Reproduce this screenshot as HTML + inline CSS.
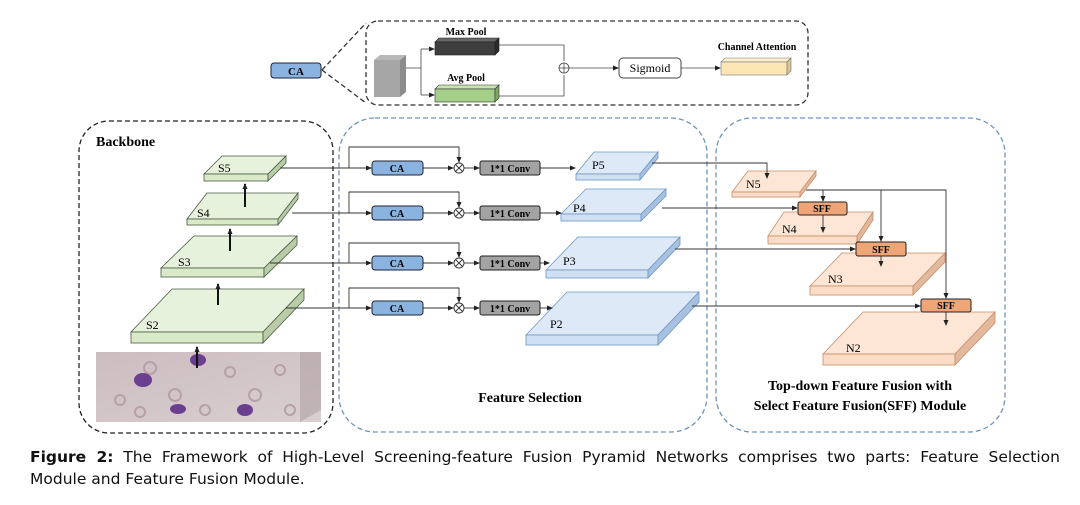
<!DOCTYPE html>
<html><head><meta charset="utf-8"><style>
body{margin:0;background:#fff;width:1080px;height:505px;overflow:hidden}
svg{position:absolute;left:0;top:0}
.cap{position:absolute;left:30px;width:1030px;font-family:"DejaVu Sans","Liberation Sans",sans-serif;font-size:15.5px;line-height:22px;color:#111;white-space:nowrap}
.l1{top:446px;text-align:justify;text-align-last:justify}
.l2{top:468px}
</style></head><body>
<svg width="1080" height="505" viewBox="0 0 1080 505" font-family="Liberation Serif, serif">
<defs>
<marker id="a" markerWidth="6" markerHeight="6" refX="5" refY="3" orient="auto" markerUnits="userSpaceOnUse"><path d="M0,0.5 L6,3 L0,5.5z" fill="#222"/></marker>
<linearGradient id="img" x1="0" y1="0" x2="1" y2="1"><stop offset="0" stop-color="#cbbcc0"/><stop offset="1" stop-color="#d9cfd0"/></linearGradient>
</defs>
<g fill="none" stroke-width="1.3" stroke-dasharray="5,3">
<rect x="79" y="121" width="254" height="312" rx="30" stroke="#222"/>
<rect x="339" y="118" width="368" height="314" rx="36" stroke="#6d93bd"/>
<rect x="716" y="118" width="289" height="314" rx="36" stroke="#6d93bd"/>
<rect x="366" y="21" width="442" height="84" rx="12" stroke="#333"/>
<line x1="322" y1="70" x2="366" y2="23" stroke="#333"/>
<line x1="322" y1="70" x2="366" y2="103" stroke="#333"/>
</g>
<rect x="271" y="63" width="50" height="15" rx="3" fill="#8ab4df" stroke="#223"/>
<text x="296" y="75" font-size="11" font-weight="bold" text-anchor="middle">CA</text>
<polygon points="374,60 380,55 406,55 400,60" fill="#b8b8b8"/>
<polygon points="400,60 406,55 406,92 400,97" fill="#8c8c8c"/>
<rect x="374" y="60" width="26" height="37" fill="#a6a6a6"/>
<polygon points="435,42 439,38 499,38 495,42" fill="#666" stroke="#222" stroke-width=".6"/>
<rect x="435" y="42" width="60" height="13" fill="#3e3e3e" stroke="#222" stroke-width=".6"/>
<polygon points="495,42 499,38 499,51 495,55" fill="#2a2a2a" stroke="#222" stroke-width=".6"/>
<text x="466" y="35" font-size="10" font-weight="bold" text-anchor="middle">Max Pool</text>
<polygon points="435,89 439,85 499,85 495,89" fill="#c8e3b3" stroke="#333" stroke-width=".6"/>
<rect x="435" y="89" width="60" height="13" fill="#a4cf88" stroke="#333" stroke-width=".6"/>
<polygon points="495,89 499,85 499,98 495,102" fill="#7fa868" stroke="#333" stroke-width=".6"/>
<text x="466" y="81" font-size="10" font-weight="bold" text-anchor="middle">Avg Pool</text>
<g stroke="#444" stroke-width=".8" fill="none">
<path d="M406,68 H421 M421,49 V95"/>
<line x1="421" y1="49" x2="434" y2="49" marker-end="url(#a)"/>
<line x1="421" y1="95" x2="434" y2="95" marker-end="url(#a)"/>
<path d="M499,45 H564 V61"/>
<path d="M499,96 H564 V75"/>
<circle cx="564" cy="68" r="5"/>
<path d="M559,68 H569 M564,63 V73"/>
<line x1="569" y1="68" x2="618" y2="68" marker-end="url(#a)"/>
<line x1="681" y1="68" x2="720" y2="68" marker-end="url(#a)"/>
</g>
<rect x="619" y="58" width="62" height="20" rx="4" fill="#fff" stroke="#444"/>
<text x="650" y="72" font-size="12" text-anchor="middle">Sigmoid</text>
<polygon points="721,62 725,58 791,58 787,62" fill="#fbeec8" stroke="#777" stroke-width=".6"/>
<rect x="721" y="62" width="66" height="13" fill="#fbe6b4" stroke="#777" stroke-width=".6"/>
<polygon points="787,62 791,58 791,71 787,75" fill="#d8c490" stroke="#777" stroke-width=".6"/>
<text x="757" y="50" font-size="10" font-weight="bold" text-anchor="middle">Channel Attention</text>
<text x="96" y="146" font-size="14" font-weight="bold">Backbone</text>
<rect x="96" y="352" width="225" height="70" fill="url(#img)"/>
<polygon points="300,352 321,352 321,410 300,422" fill="#b0a2a5" opacity=".6"/>
<g fill="none" stroke="#b7a0a8" stroke-width="2">
<circle cx="150" cy="368" r="6"/><circle cx="175" cy="395" r="6"/><circle cx="230" cy="372" r="5"/><circle cx="255" cy="395" r="6"/><circle cx="280" cy="370" r="5"/><circle cx="120" cy="400" r="5"/><circle cx="205" cy="410" r="5"/><circle cx="290" cy="410" r="5"/><circle cx="140" cy="412" r="5"/>
</g>
<g fill="#6b3f8f"><ellipse cx="198" cy="360" rx="8" ry="6"/><ellipse cx="143" cy="380" rx="9" ry="7"/><ellipse cx="178" cy="409" rx="8" ry="5"/><ellipse cx="245" cy="410" rx="8" ry="6"/></g>
<g stroke="#4a5a40" stroke-width=".8">
<polygon points="131,332 172,289 304,289 263,332" fill="#e7f2dd"/><rect x="131" y="332" width="132" height="11" fill="#d9eac9"/><polygon points="263,332 304,289 304,300 263,343" fill="#b8cca8"/>
<polygon points="161,268 194,236 297,236 264,268" fill="#e7f2dd"/><rect x="161" y="268" width="103" height="9" fill="#d9eac9"/><polygon points="264,268 297,236 297,245 264,277" fill="#b8cca8"/>
<polygon points="187,219 207,193 298,193 278,219" fill="#e7f2dd"/><rect x="187" y="219" width="91" height="6" fill="#d9eac9"/><polygon points="278,219 298,193 298,199 278,225" fill="#b8cca8"/>
<polygon points="204,174 222,156 286,156 268,174" fill="#e7f2dd"/><rect x="204" y="174" width="64" height="7" fill="#d9eac9"/><polygon points="268,174 286,156 286,163 268,181" fill="#b8cca8"/>
</g>
<g font-size="12"><text x="146" y="329">S2</text><text x="178" y="266">S3</text><text x="197" y="217">S4</text><text x="218" y="172">S5</text></g>
<g stroke="#111" stroke-width="2"><line x1="197" y1="368" x2="197" y2="347" marker-end="url(#a)"/><line x1="218" y1="305" x2="218" y2="284" marker-end="url(#a)"/><line x1="230" y1="251" x2="230" y2="229" marker-end="url(#a)"/><line x1="245" y1="207" x2="245" y2="184" marker-end="url(#a)"/></g>
<g stroke="#6e96c4" stroke-width=".8">
<polygon points="526,335 567,292 699,292 658,335" fill="#dde9f7"/><rect x="526" y="335" width="132" height="10" fill="#d0e0f3"/><polygon points="658,335 699,292 699,302 658,345" fill="#a9c1e0"/>
<polygon points="546,270 578,237 680,237 648,270" fill="#dde9f7"/><rect x="546" y="270" width="102" height="8" fill="#d0e0f3"/><polygon points="648,270 680,237 680,245 648,278" fill="#a9c1e0"/>
<polygon points="561,214 586,189 666,189 641,214" fill="#dde9f7"/><rect x="561" y="214" width="80" height="7" fill="#d0e0f3"/><polygon points="641,214 666,189 666,196 641,221" fill="#a9c1e0"/>
<polygon points="576,174 594,152 658,152 640,174" fill="#dde9f7"/><rect x="576" y="174" width="64" height="6" fill="#d0e0f3"/><polygon points="640,174 658,152 658,158 640,180" fill="#a9c1e0"/>
</g>
<g font-size="12"><text x="550" y="328">P2</text><text x="563" y="265">P3</text><text x="573" y="212">P4</text><text x="592" y="169">P5</text></g>
<g stroke="#c98d68" stroke-width=".8">
<polygon points="823,354 863,312 995,312 955,354" fill="#fde6d6"/><rect x="823" y="354" width="132" height="11" fill="#fbdcc6"/><polygon points="955,354 995,312 995,323 955,365" fill="#e2b99c"/>
<polygon points="810,286 842,253 945,253 913,286" fill="#fde6d6"/><rect x="810" y="286" width="103" height="9" fill="#fbdcc6"/><polygon points="913,286 945,253 945,262 913,295" fill="#e2b99c"/>
<polygon points="768,236 784,212 873,212 857,236" fill="#fde6d6"/><rect x="768" y="236" width="89" height="8" fill="#fbdcc6"/><polygon points="857,236 873,212 873,220 857,244" fill="#e2b99c"/>
<polygon points="732,192 748,171 816,171 800,192" fill="#fde6d6"/><rect x="732" y="192" width="68" height="5" fill="#fbdcc6"/><polygon points="800,192 816,171 816,176 800,197" fill="#e2b99c"/>
</g>
<g font-size="12"><text x="846" y="352">N2</text><text x="828" y="283">N3</text><text x="782" y="233">N4</text><text x="746" y="188">N5</text></g>
<g stroke="#333" stroke-width=".9" fill="none">
<line x1="280" y1="168" x2="371" y2="168" marker-end="url(#a)"/><path d="M349,168 V147 H459 V162" marker-end="url(#a)"/>
<line x1="292" y1="213" x2="371" y2="213" marker-end="url(#a)"/><path d="M349,213 V192 H459 V207" marker-end="url(#a)"/>
<line x1="270" y1="263" x2="371" y2="263" marker-end="url(#a)"/><path d="M349,263 V243 H459 V257" marker-end="url(#a)"/>
<line x1="286" y1="308" x2="371" y2="308" marker-end="url(#a)"/><path d="M349,308 V288 H459 V302" marker-end="url(#a)"/>
<line x1="423" y1="168" x2="453" y2="168" marker-end="url(#a)"/><line x1="464" y1="168" x2="479" y2="168" marker-end="url(#a)"/><line x1="540" y1="168" x2="575" y2="168" marker-end="url(#a)"/>
<line x1="423" y1="213" x2="453" y2="213" marker-end="url(#a)"/><line x1="464" y1="213" x2="479" y2="213" marker-end="url(#a)"/><line x1="540" y1="213" x2="561" y2="213" marker-end="url(#a)"/>
<line x1="423" y1="263" x2="453" y2="263" marker-end="url(#a)"/><line x1="464" y1="263" x2="479" y2="263" marker-end="url(#a)"/><line x1="540" y1="263" x2="549" y2="263" marker-end="url(#a)"/>
<line x1="423" y1="308" x2="453" y2="308" marker-end="url(#a)"/><line x1="464" y1="308" x2="479" y2="308" marker-end="url(#a)"/><line x1="540" y1="308" x2="552" y2="308" marker-end="url(#a)"/>
<g><circle cx="459" cy="168" r="5"/><path d="M455.5,164.5 L462.5,171.5 M462.5,164.5 L455.5,171.5"/></g>
<g><circle cx="459" cy="213" r="5"/><path d="M455.5,209.5 L462.5,216.5 M462.5,209.5 L455.5,216.5"/></g>
<g><circle cx="459" cy="263" r="5"/><path d="M455.5,259.5 L462.5,266.5 M462.5,259.5 L455.5,266.5"/></g>
<g><circle cx="459" cy="308" r="5"/><path d="M455.5,304.5 L462.5,311.5 M462.5,304.5 L455.5,311.5"/></g>
<path d="M652,163 H767 V178" marker-end="url(#a)"/>
<line x1="662" y1="208" x2="797" y2="208" marker-end="url(#a)"/>
<line x1="675" y1="249" x2="855" y2="249" marker-end="url(#a)"/>
<line x1="692" y1="306" x2="920" y2="306" marker-end="url(#a)"/>
<path d="M806,190 H946 V298" marker-end="url(#a)"/>
<line x1="823" y1="190" x2="823" y2="201" marker-end="url(#a)"/>
<line x1="881" y1="190" x2="881" y2="241" marker-end="url(#a)"/>
<line x1="823" y1="215" x2="823" y2="232" marker-end="url(#a)"/>
<line x1="881" y1="256" x2="881" y2="266" marker-end="url(#a)"/>
<line x1="946" y1="312" x2="946" y2="325" marker-end="url(#a)"/>
</g>
<g font-size="10" font-weight="bold" text-anchor="middle">
<rect x="372" y="161" width="51" height="14" rx="3" fill="#8ab4df" stroke="#223"/><text x="397" y="172">CA</text>
<rect x="372" y="206" width="51" height="14" rx="3" fill="#8ab4df" stroke="#223"/><text x="397" y="217">CA</text>
<rect x="372" y="256" width="51" height="14" rx="3" fill="#8ab4df" stroke="#223"/><text x="397" y="267">CA</text>
<rect x="372" y="301" width="51" height="14" rx="3" fill="#8ab4df" stroke="#223"/><text x="397" y="312">CA</text>
<rect x="480" y="161" width="60" height="14" rx="2" fill="#a3a3a3" stroke="#222"/><text x="510" y="172">1*1 Conv</text>
<rect x="480" y="206" width="60" height="14" rx="2" fill="#a3a3a3" stroke="#222"/><text x="510" y="217">1*1 Conv</text>
<rect x="480" y="256" width="60" height="14" rx="2" fill="#a3a3a3" stroke="#222"/><text x="510" y="267">1*1 Conv</text>
<rect x="480" y="301" width="60" height="14" rx="2" fill="#a3a3a3" stroke="#222"/><text x="510" y="312">1*1 Conv</text>
<rect x="798" y="202" width="49" height="13" rx="2" fill="#eea578" stroke="#222"/><text x="822" y="212">SFF</text>
<rect x="856" y="242" width="50" height="14" rx="2" fill="#eea578" stroke="#222"/><text x="881" y="253">SFF</text>
<rect x="921" y="299" width="50" height="13" rx="2" fill="#eea578" stroke="#222"/><text x="946" y="309">SFF</text>
</g>
<g font-size="14" font-weight="bold" text-anchor="middle">
<text x="530" y="402">Feature Selection</text>
<text x="860" y="390">Top-down Feature Fusion with</text>
<text x="860" y="410">Select Feature Fusion(SFF) Module</text>
</g>
</svg>
<div class="cap l1"><b>Figure 2:</b> The Framework of High-Level Screening-feature Fusion Pyramid Networks comprises two parts: Feature Selection</div>
<div class="cap l2">Module and Feature Fusion Module.</div>
</body></html>
